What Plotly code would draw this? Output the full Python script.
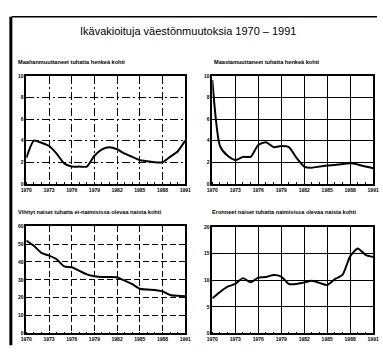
import plotly.graph_objects as go

W, H = 383, 356

years = list(range(1970, 1992))
tick_years = [1970, 1973, 1976, 1979, 1982, 1985, 1988, 1991]

immigrants = [2.4, 4.0, 3.8, 3.5, 2.8, 1.9, 1.6, 1.6, 1.6, 2.6, 3.2,
              3.4, 3.2, 2.8, 2.5, 2.2, 2.1, 2.0, 2.0, 2.5, 3.0, 4.0]
emigrants = [9.6, 3.5, 2.6, 2.2, 2.5, 2.5, 3.6, 3.85, 3.4, 3.5, 3.4,
             2.4, 1.6, 1.5, 1.6, 1.7, 1.75, 1.85, 1.9, 1.8, 1.6, 1.45]
married = [52, 49, 45, 43.5, 41.5, 37.5, 37, 35, 33, 32, 31.5,
           31.5, 31.3, 29.5, 27.5, 25, 24.5, 24.3, 23.5, 21.5, 21, 20.7]
divorced = [6.6, 7.8, 8.8, 9.3, 10.4, 9.6, 10.5, 10.6, 11.0, 10.7, 9.3,
            9.3, 9.6, 9.9, 9.5, 9.1, 10.2, 11.0, 14.5, 16.0, 14.8, 14.4]

main_title = "Ikävakioituja väestönmuutoksia 1970 – 1991"
titles = ["Maahanmuuttaneet tuhatta henkeä kohti",
          "Maastamuuttaneet tuhatta henkeä kohti",
          "Vihityt naiset tuhatta ei-naimisissa olevaa naista kohti",
          "Eronneet naiset tuhatta naimisissa olevaa naista kohti"]
series = [immigrants, emigrants, married, divorced]
y_ranges = [(0, 10, 2), (0, 10, 2), (0, 60, 10), (0, 20, 5)]

# panel pixel boxes: x0, x1, y0(top), y1(bottom)
boxes = [(21, 185, 74, 184), (213, 379, 74, 184),
         (21, 185, 227, 336), (213, 379, 228, 336)]
griddash = ["8px,3px,2px,3px", "solid", "6px,3px", "solid"]
title_pos = [(10, 60), (213, 60), (10, 213), (211, 213)]

fig = go.Figure()
tickfont = dict(family="Liberation Sans, Arial", size=5, color="black", weight="bold")

for i, (vals, (lo, hi, step), (x0, x1, yt, yb)) in enumerate(zip(series, y_ranges, boxes)):
    n = i + 1
    xa = "x" if n == 1 else f"x{n}"
    ya = "y" if n == 1 else f"y{n}"
    fig.add_trace(go.Scatter(x=years, y=vals, mode="lines",
                             line=dict(color="black", width=2, shape="spline", smoothing=0.6),
                             xaxis=xa, yaxis=ya, showlegend=False, hoverinfo="skip"))
    xkey = "xaxis" if n == 1 else f"xaxis{n}"
    ykey = "yaxis" if n == 1 else f"yaxis{n}"
    fig.layout[xkey] = dict(
        domain=[x0 / W, x1 / W], anchor=ya, range=[1970, 1991],
        tickvals=tick_years, ticktext=[str(t) for t in tick_years],
        tickfont=tickfont, ticks="", ticklen=0,
        showgrid=True, gridcolor="black", gridwidth=1, griddash=griddash[i],
        showline=True, linecolor="black", linewidth=1.5, mirror=True,
        zeroline=False, fixedrange=True,
        minor=dict(dtick=1, tick0=1970, ticks="inside", ticklen=2,
                   tickcolor="black", showgrid=False),
    )
    fig.layout[ykey] = dict(
        domain=[1 - yb / H, 1 - yt / H], anchor=xa, range=[lo, hi],
        tickvals=list(range(lo, hi + 1, step)),
        tickfont=tickfont, ticks="", ticklen=0,
        showgrid=True, gridcolor="black", gridwidth=1, griddash=griddash[i],
        showline=True, linecolor="black", linewidth=1.5, mirror=True,
        zeroline=False, fixedrange=True,
    )
    tx, ty = title_pos[i]
    fig.add_annotation(text=titles[i], x=tx / W, y=1 - ty / H, xref="paper", yref="paper",
                       xanchor="left", yanchor="middle", showarrow=False,
                       font=dict(family="Liberation Sans, Arial", size=5.6,
                                 color="black", weight="bold"))

fig.add_annotation(text=main_title, x=74 / W, y=1 - 28.5 / H, xref="paper", yref="paper",
                   xanchor="left", yanchor="middle", showarrow=False,
                   font=dict(family="Liberation Sans, Arial", size=11, color="black"))

# outer frame lines (top and left)
fig.add_shape(type="line", xref="paper", yref="paper", x0=6 / W, x1=1, y0=1 - 14 / H, y1=1 - 14 / H,
              line=dict(color="black", width=1.5))
fig.add_shape(type="line", xref="paper", yref="paper", x0=5 / W, x1=5 / W, y0=1 - 14 / H, y1=1 - 348 / H,
              line=dict(color="black", width=3))

fig.update_layout(width=W, height=H, margin=dict(l=0, r=0, t=0, b=0),
                  paper_bgcolor="white", plot_bgcolor="white")

fig.write_html("out.html", config={"displayModeBar": False},
               post_script="document.body.style.margin='0';document.body.style.overflow='hidden';")
